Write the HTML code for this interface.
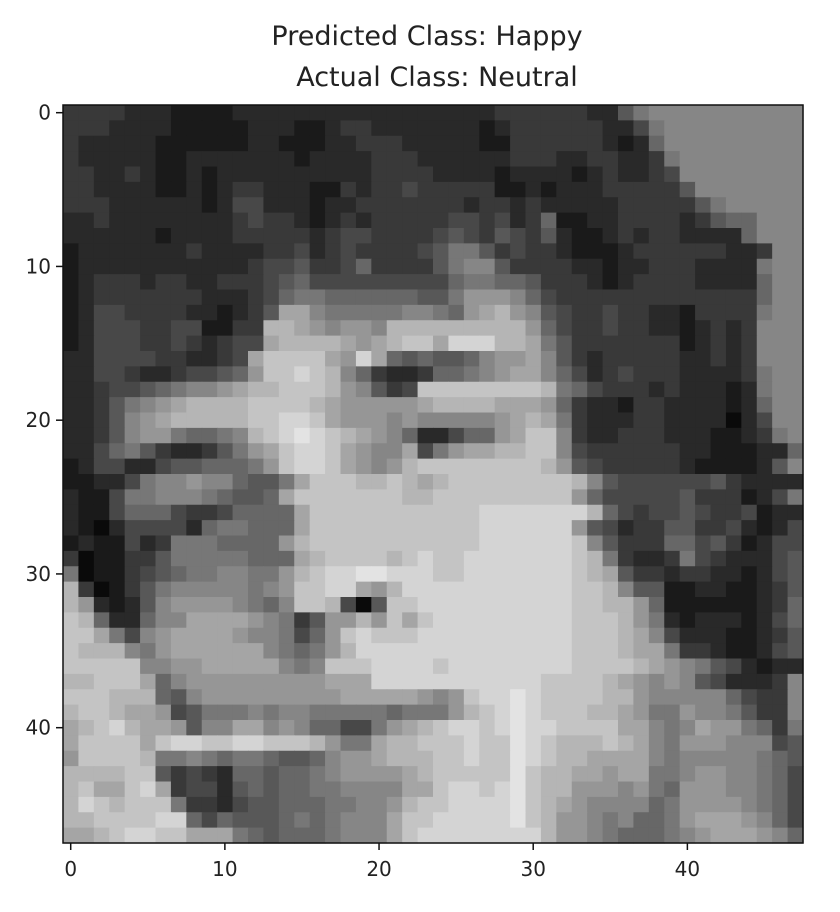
<!DOCTYPE html>
<html><head><meta charset="utf-8"><style>
body{margin:0;background:#fff;width:840px;height:912px;overflow:hidden}
svg{display:block}
text{font-family:"DejaVu Sans","Liberation Sans",sans-serif;fill:#222}
</style></head><body>
<svg id="chart" width="840" height="912">
<text x="427" y="45" text-anchor="middle" font-size="27">Predicted Class: Happy</text>
<text x="437" y="86" text-anchor="middle" font-size="27">Actual Class: Neutral</text>
<g id="cells"></g>
<rect x="63" y="105" width="740" height="738" fill="none" stroke="#111" stroke-width="1.5"/>
<g id="axes"></g>
</svg>
<script>
const rows = [
"333322211112222222222222"+"2222333333225788888888888".slice(0,24),
"333222211111222112332222"+"222123333332247888888888",
"322222111111221112233322"+"222113333332126888888888",
"322222112222222122223332"+"222223332233223788888888",
"332232112122222222223333"+"222212222123223488888888",
"332222112123322211323343"+"333311212223333358888888",
"333222222124422212233333"+"332332322222333335788888",
"223222222223433212323333"+"344342361122333323566888",
"222222122223333323443333"+"454354352112323322226888",
"122222223222233423433334"+"577534332111233333322388",
"122222222222344533463333"+"578853333221223332222788",
"123332332233345644444444"+"467766533321233332222688",
"123333333222346776666665"+"579998643333333333333688",
"124433332212358a77777788".replace('8a7','aa8')+"769ab9854334332213333788",
"1244433441133bba98998bb".padEnd(24,'b')+"bbbbbb964334332212323888",
"1244433432344abbbba9abcc"+"adddbba75333333312323888",
"224444332234acccca9da656"+"556899a85323333322323888",
"2244322344569ccdcb863223a".slice(0,24)+"66789aa86423433322223788",
"22344567889abbcccb98534c".slice(0,24)+"cccccccb7643332322212788",
"2235789abbbbccccba99999ac".slice(0,24)+"bbbbaaa96322133222212688",
"22358 9abbbbbccddca999898b".replace(' ','').slice(0,24)+"88889aba7322233222202488",
"223589976678bcdedcba9862"+"2466 9acc832233322211237".replace(' ','')+"8",
"224675322357 9acddca988a4".replace(' ','').slice(0,24)+"79aabbcc843333332211 1226".replace(' ','').slice(0,24),
"124422455666 79cddca989bc".replace(' ','').slice(0,24)+"cccccccb9543333321111258",
"112247889886557acccbbcbab".slice(0,24)+"bccccccccb854444445322224".slice(0,24),
"21147788876556acccccccbbb".slice(0,24)+"ccccccccc96444445333124".padEnd(24,'7'),
"211466643346666acccccccc".slice(0,24)+"cccdddddddb643445433412245".slice(0,24),
"210244442677666accccccccb".slice(0,24)+"cccdddddd954233553342124".padEnd(24,'4'),
"121142377766669bcccccccc"+"cccddddddc8533366453124".padEnd(24,'4'),
"301133577777666abccccbcdc".slice(0,24)+"ccdddddddcb732237432224".padEnd(24,'5'),
"701134567788779bcddeeddd"+"ccdddddddcba533233221245",
"b30135788888789ccdda9bdd"+"dddddddddccb855112211235",
"b92125899998768ccb405ccd"+"dddddddddccbb96111111236",
"cb622688aaaa98735 99b9cacd".replace(' ','').slice(0,24)+"dddddddddcccb97212221246",
"cca748 9aaaa98874 69cdcccd".replace(/ /g,'').slice(0,24)+"dddddddddcccba8422211235",
"cbbb879aaaaaa8767 9bdddddd".replace(' ','').slice(0,24)+"dddddddddcccbaa733211245",
"ccccc889 9aaaaa878cccdddd".replace(' ','').slice(0,24)+"cddddddddccccba98754212238".slice(0,24),
"bbccca6899999999 9aaadddd".replace(' ','').slice(0,24)+"dddddddccccba98985422238".slice(0,24),
"cccbbb658999999999aaaaa9a".slice(0,24)+"89cddedccccbb98888864338",
"bccbaa945777878877777677"+"79bcdedcccbba97798875338",
"abcdbaa958 8aa898664479ab".replace(' ','').slice(0,24)+"cddcdeddccccaa878a997637",
"acccc acddccddcccb977abbc".replace(' ','').slice(0,24)+"ccdccedcbbbcba8799988845",
"9ccccb77876776556899abbb"+"ccdccedcbbaaaa8788888765",
"bbbbcc534326656678999 9ab".replace(' ','').slice(0,24)+"cccccecbbaa9aa7789988764",
"bcaacda344256566778888aab".slice(0,24)+"cddcdecbb99989769998876 4".replace(' ','').slice(0,24),
"bdcbccc73324556667788 9bc".replace(' ','').slice(0,24)+"cdddde cba988886799998764".replace(' ','').slice(0,24),
"bbccccdd6465556767888acc"+"ddddde cb998786679aaa9864".replace(' ','').slice(0,24),
"aabcddccaaa7656667888acd"+"dddddddb9987666789aaa9864".slice(0,24)
];
const xTicks = [0,10,20,30,40];
const yTicks = [0,10,20,30,40];
const NS="http://www.w3.org/2000/svg";
const X0=63,Y0=105,W=740,H=738,N=48;
const cw=W/N, ch=H/N;
function sx(c){return X0+c*cw;}
function sy(r){return Y0+r*ch;}
const g=document.getElementById('cells');
rows.forEach((rowStr,r)=>{
  const s=(rowStr+"888888888888888888888888888888888888888888888888").slice(0,48);
  for(let c=0;c<48;c++){
    const v=parseInt(s[c],16); const gv=Math.min(255,Math.round(v*15.5+10));
    const rect=document.createElementNS(NS,'rect');
    rect.setAttribute('x',sx(c));rect.setAttribute('y',sy(r));
    rect.setAttribute('width',cw+0.6);rect.setAttribute('height',ch+0.6);
    rect.setAttribute('fill',`rgb(${gv},${gv},${gv})`);
    
    
    g.appendChild(rect);
  }
});
const ax=document.getElementById('axes');
xTicks.forEach(t=>{
  const x=sx(t+0.5);
  const l=document.createElementNS(NS,'line');
  l.setAttribute('x1',x);l.setAttribute('x2',x);l.setAttribute('y1',Y0+H);l.setAttribute('y2',Y0+H+7);
  l.setAttribute('stroke','#111');l.setAttribute('stroke-width','1.5');
  
  
  ax.appendChild(l);
  const tx=document.createElementNS(NS,'text');
  tx.setAttribute('x',x);tx.setAttribute('y',Y0+H+33);tx.setAttribute('text-anchor','middle');tx.setAttribute('font-size','20');
  tx.textContent=t;
  
  
  ax.appendChild(tx);
});
yTicks.forEach(t=>{
  const y=sy(t+0.5);
  const l=document.createElementNS(NS,'line');
  l.setAttribute('x1',X0-7);l.setAttribute('x2',X0);l.setAttribute('y1',y);l.setAttribute('y2',y);
  l.setAttribute('stroke','#111');l.setAttribute('stroke-width','1.5');
  
  
  ax.appendChild(l);
  const tx=document.createElementNS(NS,'text');
  tx.setAttribute('x',X0-12);tx.setAttribute('y',y+7);tx.setAttribute('text-anchor','end');tx.setAttribute('font-size','20');
  tx.textContent=t;
  
  
  ax.appendChild(tx);
});
</script>
</body></html>
